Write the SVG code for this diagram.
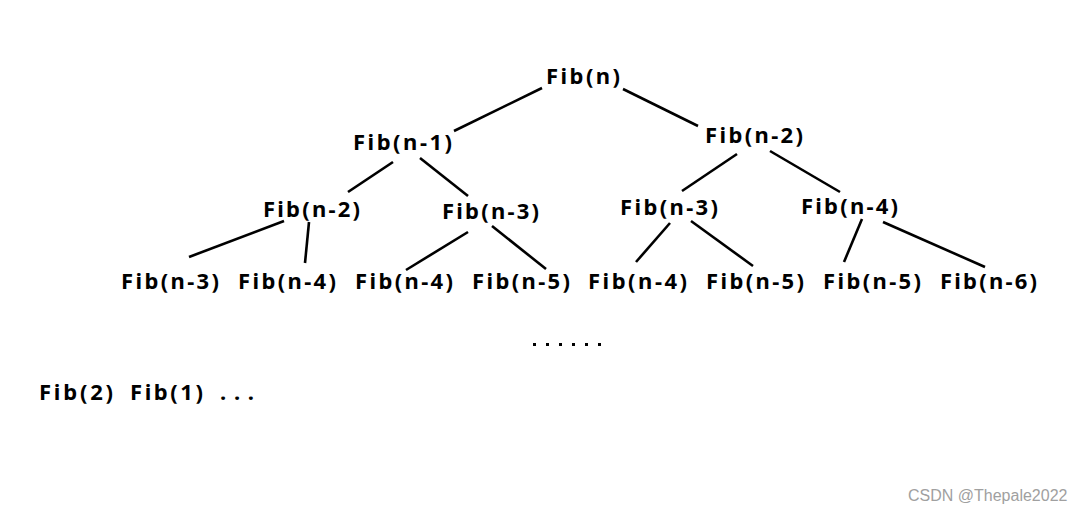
<svg xmlns="http://www.w3.org/2000/svg" width="1085" height="513" viewBox="0 0 1085 513">
<style>
.t{font-family:"Noto Sans","DejaVu Sans",sans-serif;font-weight:bold;font-size:22px;fill:#000}
.e line{stroke:#000;stroke-width:2.6;stroke-linecap:butt}
.wm{font-family:"Liberation Sans",Arial,sans-serif;font-size:16px;fill:#a0a0a0}
</style>
<rect width="1085" height="513" fill="#fff"/>
<g class="e" id="connectors">
<line x1="542" y1="88" x2="454" y2="131"/>
<line x1="623" y1="89" x2="698" y2="126"/>
<line x1="393" y1="162" x2="348" y2="192"/>
<line x1="420" y1="158" x2="468" y2="196"/>
<line x1="737" y1="154" x2="682" y2="191"/>
<line x1="770" y1="151" x2="840" y2="192"/>
<line x1="284" y1="221" x2="189" y2="257"/>
<line x1="309" y1="222" x2="305" y2="263"/>
<line x1="468" y1="232" x2="406" y2="270"/>
<line x1="492" y1="226" x2="546" y2="269"/>
<line x1="670" y1="223" x2="636" y2="262"/>
<line x1="691" y1="221" x2="753" y2="266"/>
<line x1="862" y1="219" x2="844" y2="262"/>
<line x1="883" y1="222" x2="985" y2="267"/>
</g>
<g id="n0"><text class="t" x="546" y="84" textLength="74" lengthAdjust="spacing">Fib(n)</text></g>
<g id="n1"><text class="t" x="353" y="150" textLength="99" lengthAdjust="spacing">Fib(n-1)</text></g>
<g id="n2"><text class="t" x="705" y="143" textLength="98" lengthAdjust="spacing">Fib(n-2)</text></g>
<g id="n3"><text class="t" x="263" y="217" textLength="97" lengthAdjust="spacing">Fib(n-2)</text></g>
<g id="n4"><text class="t" x="442" y="219" textLength="97" lengthAdjust="spacing">Fib(n-3)</text></g>
<g id="n5"><text class="t" x="620" y="215" textLength="98" lengthAdjust="spacing">Fib(n-3)</text></g>
<g id="n6"><text class="t" x="801" y="214" textLength="97" lengthAdjust="spacing">Fib(n-4)</text></g>
<g id="n7"><text class="t" x="121" y="289" textLength="98" lengthAdjust="spacing">Fib(n-3)</text></g>
<g id="n8"><text class="t" x="238" y="289" textLength="98" lengthAdjust="spacing">Fib(n-4)</text></g>
<g id="n9"><text class="t" x="355" y="289" textLength="98" lengthAdjust="spacing">Fib(n-4)</text></g>
<g id="n10"><text class="t" x="472" y="289" textLength="98" lengthAdjust="spacing">Fib(n-5)</text></g>
<g id="n11"><text class="t" x="588" y="289" textLength="99" lengthAdjust="spacing">Fib(n-4)</text></g>
<g id="n12"><text class="t" x="706" y="289" textLength="98" lengthAdjust="spacing">Fib(n-5)</text></g>
<g id="n13"><text class="t" x="823" y="289" textLength="98" lengthAdjust="spacing">Fib(n-5)</text></g>
<g id="n14"><text class="t" x="940" y="289" textLength="97" lengthAdjust="spacing">Fib(n-6)</text></g>
<g id="dots">
<rect x="533" y="343" width="3" height="3"/>
<rect x="546" y="343" width="3" height="3"/>
<rect x="559" y="343" width="3" height="3"/>
<rect x="572" y="343" width="3" height="3"/>
<rect x="585" y="343" width="3" height="3"/>
<rect x="598" y="343" width="3" height="3"/>
</g>
<g id="bottom">
<text class="t" x="39" y="400" textLength="74" lengthAdjust="spacing">Fib(2)</text>
<text class="t" x="130" y="400" textLength="73" lengthAdjust="spacing">Fib(1)</text>
<text class="t" x="220" y="400" textLength="34" lengthAdjust="spacing">...</text>
</g>
<text class="wm" x="908" y="501">CSDN @Thepale2022</text>
</svg>
